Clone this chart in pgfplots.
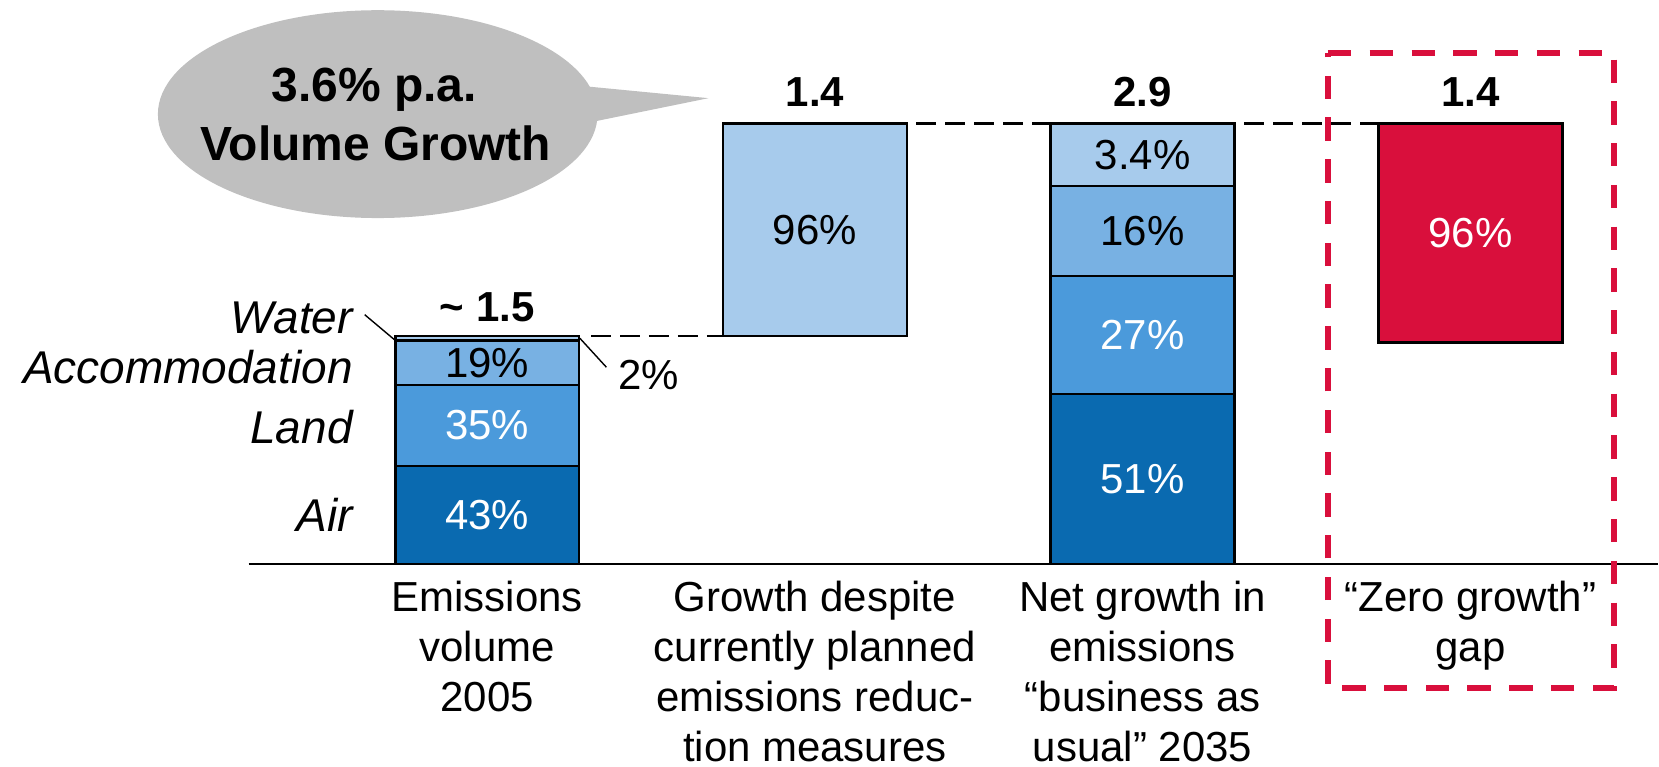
\documentclass[border=0pt]{standalone}
\usepackage{pgfplots}
\pgfplotsset{compat=1.18}
\usepackage{fontspec}
\setmainfont{Liberation Sans}

\definecolor{airc}{HTML}{0A6AB0}
\definecolor{landc}{HTML}{4B9ADB}
\definecolor{accc}{HTML}{78B1E3}
\definecolor{waterc}{HTML}{A7CBEC}
\definecolor{redc}{HTML}{D90F3C}
\definecolor{bubc}{HTML}{BFBFBF}

\pgfplotsset{
  basestyle/.style={
    width=829.5pt, height=383.5pt, scale only axis,
    xmin=-1.4863, xmax=3.5716, ymin=-1.3330, ymax=3.7108,
    enlargelimits=false, clip=false,
    axis line style={draw=none}, major tick length=0pt,
    ytick=\empty,
    ybar stacked, bar width=92pt,
    reverse stacked plots=false,
  },
  segment/.style={draw=black, line width=1.3pt},
}
\newcommand{\pf}{\fontsize{21}{25}\selectfont}
\newcommand{\lf}{\fontsize{23}{27}\selectfont\itshape}
\newcommand{\vf}{\fontsize{21}{25}\selectfont\bfseries}
\newcommand{\bubf}{\fontsize{24}{28}\selectfont\bfseries}

\begin{document}
\begin{tikzpicture}
% ---- stacked bars: 2005 and 2035 business as usual ----
\begin{axis}[basestyle,
  xtick={0,1,2,3},
  xticklabels={{Emissions\\volume\\2005},
               {Growth despite\\currently planned\\emissions reduc-\\tion measures},
               {Net growth in\\emissions\\“business as\\usual” 2035},
               {“Zero growth”\\gap}},
  xticklabel style={align=center, anchor=north, inner sep=0pt, yshift=93pt, font=\pf},
]
\path (rel axis cs:0,0) (rel axis cs:1,1);
\addplot[segment, fill=airc]   coordinates {(0,0.645) (2,1.118)};
\addplot[segment, fill=landc]  coordinates {(0,0.533) (2,0.778)};
\addplot[segment, fill=accc]   coordinates {(0,0.293) (2,0.592)};
\addplot[segment, fill=waterc] coordinates {(0,0.029) (2,0.412)};

% baseline
\draw[line width=1.3pt] (axis cs:-0.728,0) -- (axis cs:3.5716,0);

% connectors
\draw[line width=1.2pt, dash pattern=on 10pt off 4.5pt] (axis cs:0.317,1.5) -- (axis cs:0.718,1.5);
\draw[line width=1.2pt, dash pattern=on 10pt off 4.5pt] (axis cs:1.31,2.9) -- (axis cs:1.72,2.9);
\draw[line width=1.2pt, dash pattern=on 10pt off 4.5pt] (axis cs:2.31,2.9) -- (axis cs:2.718,2.9);

% percent labels
\node[font=\pf, text=white] at (axis cs:0,0.3225) {43\%};
\node[font=\pf, text=white] at (axis cs:0,0.9115) {35\%};
\node[font=\pf, text=black] at (axis cs:0,1.3245) {19\%};
\node[font=\pf, text=white] at (axis cs:2,0.559) {51\%};
\node[font=\pf, text=white] at (axis cs:2,1.507) {27\%};
\node[font=\pf, text=black] at (axis cs:2,2.192) {16\%};
\node[font=\pf, text=black] at (axis cs:2,2.694) {3.4\%};

% segment names
\node[anchor=base east, font=\lf] at (axis cs:-0.3887,1.519) {Water};
\node[anchor=base east, font=\lf] at (axis cs:-0.3887,1.190) {Accommodation};
\node[anchor=base east, font=\lf] at (axis cs:-0.3887,0.796) {Land};
\node[anchor=base east, font=\lf] at (axis cs:-0.3887,0.215) {Air};
\draw[line width=0.7pt] (axis cs:-0.3735,1.641) -- (axis cs:-0.282,1.475);
\draw[line width=0.7pt] (axis cs:0.283,1.486) -- (axis cs:0.364,1.295);
\node[anchor=base west, font=\pf] at (axis cs:0.378,1.146) {2\%};

% totals
\node[anchor=base, font=\vf] at (axis cs:0,1.595) {\textasciitilde{} 1.5};
\node[anchor=base, font=\vf] at (axis cs:1,3.014) {1.4};
\node[anchor=base, font=\vf] at (axis cs:2,3.014) {2.9};
\node[anchor=base, font=\vf] at (axis cs:3,3.014) {1.4};

% speech bubble
\fill[bubc] (axis cs:-0.3338,2.961) ellipse [x radius=110pt, y radius=52pt];
\fill[bubc] (axis cs:0.2912,3.146) -- (axis cs:0.6753,3.066) -- (axis cs:0.3186,2.909) -- cycle;
\node[anchor=base, font=\bubf] at (axis cs:-0.345,3.042) {3.6\% p.a.};
\node[anchor=base, font=\bubf] at (axis cs:-0.34,2.654) {Volume Growth};

% zero growth gap frame
\draw[redc, line width=3pt, dash pattern=on 11.7pt off 9.2pt]
  (axis cs:2.5655,3.360) -- (axis cs:3.439,3.360) -- (axis cs:3.439,-0.8154)
  -- (axis cs:2.5655,-0.8154) -- cycle;
\end{axis}

% ---- floating bar: growth despite measures ----
\begin{axis}[basestyle, xtick=\empty]
\addplot[draw=none, fill=none] coordinates {(1,1.5)};
\addplot[segment, fill=waterc] coordinates {(1,1.4)};
\node[font=\pf, text=black] at (axis cs:1,2.2) {96\%};
\end{axis}

% ---- floating bar: zero growth gap ----
\begin{axis}[basestyle, xtick=\empty]
\addplot[draw=none, fill=none] coordinates {(3,1.46)};
\addplot[segment, fill=redc] coordinates {(3,1.44)};
\node[font=\pf, text=white] at (axis cs:3,2.18) {96\%};
\end{axis}
\end{tikzpicture}
\end{document}
